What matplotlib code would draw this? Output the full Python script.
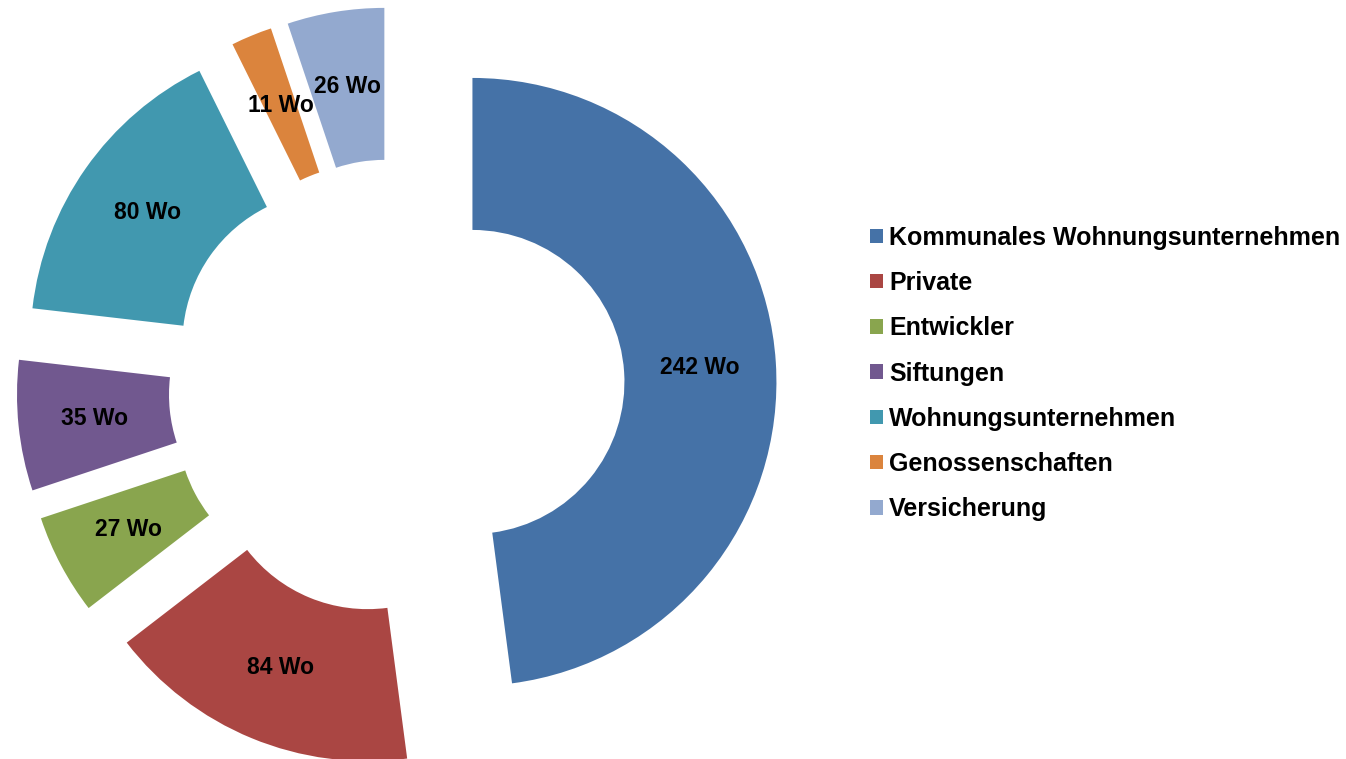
import matplotlib
matplotlib.use("Agg")
import matplotlib.pyplot as plt

# owners and number of flats (Wo = Wohnungen)
categories = ["Kommunales Wohnungsunternehmen", "Private", "Entwickler",
              "Siftungen", "Wohnungsunternehmen", "Genossenschaften",
              "Versicherung"]
flats = [242, 84, 27, 35, 80, 11, 26]
colors = ["#4572A7", "#AA4643", "#89A54E", "#71588F",
          "#4198AF", "#DB843D", "#93A9CF"]

total = sum(flats)
font = "Liberation Sans"

fig = plt.figure(figsize=(13.46, 7.59), dpi=100)
ax = fig.add_axes([0, 0, 1, 1])

wedges, texts, autotexts = ax.pie(
    flats,
    colors=colors,
    startangle=90,
    counterclock=False,
    explode=[0.25] * len(flats),
    radius=1.0,
    wedgeprops=dict(width=0.5, edgecolor="none"),
    autopct=lambda p: "%d Wo" % round(p * total / 100.0),
    pctdistance=0.75,
    textprops=dict(family=font, fontweight="bold", fontsize=16.5, color="black"),
)

# one radius = 304 px, donut centre at (396.6, 386.9) px from top-left
px = 304.0
ax.set_xlim(-396.6 / px, (1346 - 396.6) / px)
ax.set_ylim(-(759 - 386.9) / px, 386.9 / px)
ax.set_aspect("auto")
ax.axis("off")

fig.legend(wedges, categories, loc="center left",
           bbox_to_anchor=(870 / 1346, 1 - 373.5 / 759),
           frameon=False, borderpad=0, borderaxespad=0,
           handlelength=0.52, handleheight=0.52, handletextpad=0.24,
           labelspacing=0.85,
           prop=dict(family=font, weight="bold", size=18))

fig.savefig("out.png", dpi=100, facecolor="white")
